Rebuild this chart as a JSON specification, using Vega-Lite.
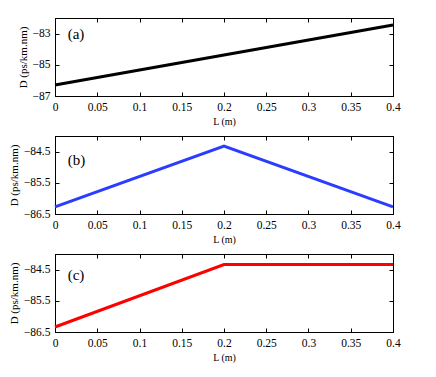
{
  "$schema": "https://vega.github.io/schema/vega-lite/v6.json",
  "padding": {"left": 7, "top": 17, "right": 5, "bottom": 5},
  "spacing": 8,
  "config": {
    "font": "Liberation Serif",
    "view": {"stroke": "black", "strokeWidth": 1},
    "text": {"font": "Liberation Serif"},
    "axis": {
      "domainColor": "black",
      "tickColor": "black",
      "tickSize": -4,
      "labelPadding": 9,
      "labelFlush": false,
      "labelOverlap": false,
      "labelColor": "black",
      "labelFontSize": 11.5,
      "labelFont": "Liberation Serif",
      "titleFont": "Liberation Serif",
      "titleFontSize": 11,
      "titleFontWeight": "normal",
      "titleColor": "black",
      "grid": false
    }
  },
  "datasets": {
    "a": [{"L": 0, "D": -86.3}, {"L": 0.4, "D": -82.45}],
    "b": [{"L": 0, "D": -86.27}, {"L": 0.2, "D": -84.32}, {"L": 0.4, "D": -86.27}],
    "c": [{"L": 0, "D": -86.34}, {"L": 0.2, "D": -84.34}, {"L": 0.4, "D": -84.34}],
    "la": [{"L": 0.015, "D": -83, "t": "(a)"}],
    "lb": [{"L": 0.015, "D": -84.78, "t": "(b)"}],
    "lc": [{"L": 0.015, "D": -84.68, "t": "(c)"}]
  },
  "vconcat": [
    {
      "width": 338, "height": 78,
      "layer": [
        {"data": {"name": "a"}, "mark": {"type": "line", "color": "black", "strokeWidth": 3},
         "encoding": {
           "x": {"field": "L", "type": "quantitative", "scale": {"domain": [0, 0.4], "nice": false, "zero": false},
                 "axis": {"title": "L (m)", "titleFontSize": 10, "values": [0, 0.05, 0.1, 0.15, 0.2, 0.25, 0.3, 0.35, 0.4], "labelExpr": "format(datum.value, '~g')"}},
           "y": {"field": "D", "type": "quantitative", "scale": {"domain": [-87, -82], "nice": false, "zero": false},
                 "axis": {"title": "D (ps/km.nm)", "values": [-87, -85, -83], "labelExpr": "format(datum.value, '~g')"}}}},
        {"data": {"name": "a"}, "mark": {"type": "line", "opacity": 0},
         "encoding": {
           "x": {"field": "L", "type": "quantitative", "scale": {"domain": [0, 0.4], "nice": false, "zero": false}, "axis": {"orient": "top", "labels": false, "title": null, "values": [0, 0.05, 0.1, 0.15, 0.2, 0.25, 0.3, 0.35, 0.4]}},
           "y": {"field": "D", "type": "quantitative", "scale": {"domain": [-87, -82], "nice": false, "zero": false}, "axis": {"orient": "right", "labels": false, "title": null, "values": [-87, -85, -83]}}}},
        {"data": {"name": "la"}, "mark": {"type": "text", "align": "left", "baseline": "middle", "fontSize": 15, "font": "Liberation Serif"},
         "encoding": {
           "x": {"field": "L", "type": "quantitative", "scale": {"domain": [0, 0.4], "nice": false, "zero": false}, "axis": null},
           "y": {"field": "D", "type": "quantitative", "scale": {"domain": [-87, -82], "nice": false, "zero": false}, "axis": null},
           "text": {"field": "t"}}}
      ],
      "resolve": {"axis": {"x": "independent", "y": "independent"}}
    },
    {
      "width": 338, "height": 78,
      "layer": [
        {"data": {"name": "b"}, "mark": {"type": "line", "color": "#2a3cff", "strokeWidth": 3},
         "encoding": {
           "x": {"field": "L", "type": "quantitative", "scale": {"domain": [0, 0.4], "nice": false, "zero": false},
                 "axis": {"title": "L (m)", "titleFontSize": 10, "values": [0, 0.05, 0.1, 0.15, 0.2, 0.25, 0.3, 0.35, 0.4], "labelExpr": "format(datum.value, '~g')"}},
           "y": {"field": "D", "type": "quantitative", "scale": {"domain": [-86.5, -84], "nice": false, "zero": false},
                 "axis": {"title": "D (ps/km.nm)", "values": [-86.5, -85.5, -84.5], "labelExpr": "format(datum.value, '.1f')"}}}},
        {"data": {"name": "b"}, "mark": {"type": "line", "opacity": 0},
         "encoding": {
           "x": {"field": "L", "type": "quantitative", "scale": {"domain": [0, 0.4], "nice": false, "zero": false}, "axis": {"orient": "top", "labels": false, "title": null, "values": [0, 0.05, 0.1, 0.15, 0.2, 0.25, 0.3, 0.35, 0.4]}},
           "y": {"field": "D", "type": "quantitative", "scale": {"domain": [-86.5, -84], "nice": false, "zero": false}, "axis": {"orient": "right", "labels": false, "title": null, "values": [-86.5, -85.5, -84.5]}}}},
        {"data": {"name": "lb"}, "mark": {"type": "text", "align": "left", "baseline": "middle", "fontSize": 15, "font": "Liberation Serif"},
         "encoding": {
           "x": {"field": "L", "type": "quantitative", "scale": {"domain": [0, 0.4], "nice": false, "zero": false}, "axis": null},
           "y": {"field": "D", "type": "quantitative", "scale": {"domain": [-86.5, -84], "nice": false, "zero": false}, "axis": null},
           "text": {"field": "t"}}}
      ],
      "resolve": {"axis": {"x": "independent", "y": "independent"}}
    },
    {
      "width": 338, "height": 78,
      "layer": [
        {"data": {"name": "c"}, "mark": {"type": "line", "color": "#ff0000", "strokeWidth": 3},
         "encoding": {
           "x": {"field": "L", "type": "quantitative", "scale": {"domain": [0, 0.4], "nice": false, "zero": false},
                 "axis": {"title": "L (m)", "titleFontSize": 10, "values": [0, 0.05, 0.1, 0.15, 0.2, 0.25, 0.3, 0.35, 0.4], "labelExpr": "format(datum.value, '~g')"}},
           "y": {"field": "D", "type": "quantitative", "scale": {"domain": [-86.5, -84], "nice": false, "zero": false},
                 "axis": {"title": "D (ps/km.nm)", "values": [-86.5, -85.5, -84.5], "labelExpr": "format(datum.value, '.1f')"}}}},
        {"data": {"name": "c"}, "mark": {"type": "line", "opacity": 0},
         "encoding": {
           "x": {"field": "L", "type": "quantitative", "scale": {"domain": [0, 0.4], "nice": false, "zero": false}, "axis": {"orient": "top", "labels": false, "title": null, "values": [0, 0.05, 0.1, 0.15, 0.2, 0.25, 0.3, 0.35, 0.4]}},
           "y": {"field": "D", "type": "quantitative", "scale": {"domain": [-86.5, -84], "nice": false, "zero": false}, "axis": {"orient": "right", "labels": false, "title": null, "values": [-86.5, -85.5, -84.5]}}}},
        {"data": {"name": "lc"}, "mark": {"type": "text", "align": "left", "baseline": "middle", "fontSize": 15, "font": "Liberation Serif"},
         "encoding": {
           "x": {"field": "L", "type": "quantitative", "scale": {"domain": [0, 0.4], "nice": false, "zero": false}, "axis": null},
           "y": {"field": "D", "type": "quantitative", "scale": {"domain": [-86.5, -84], "nice": false, "zero": false}, "axis": null},
           "text": {"field": "t"}}}
      ],
      "resolve": {"axis": {"x": "independent", "y": "independent"}}
    }
  ]
}
